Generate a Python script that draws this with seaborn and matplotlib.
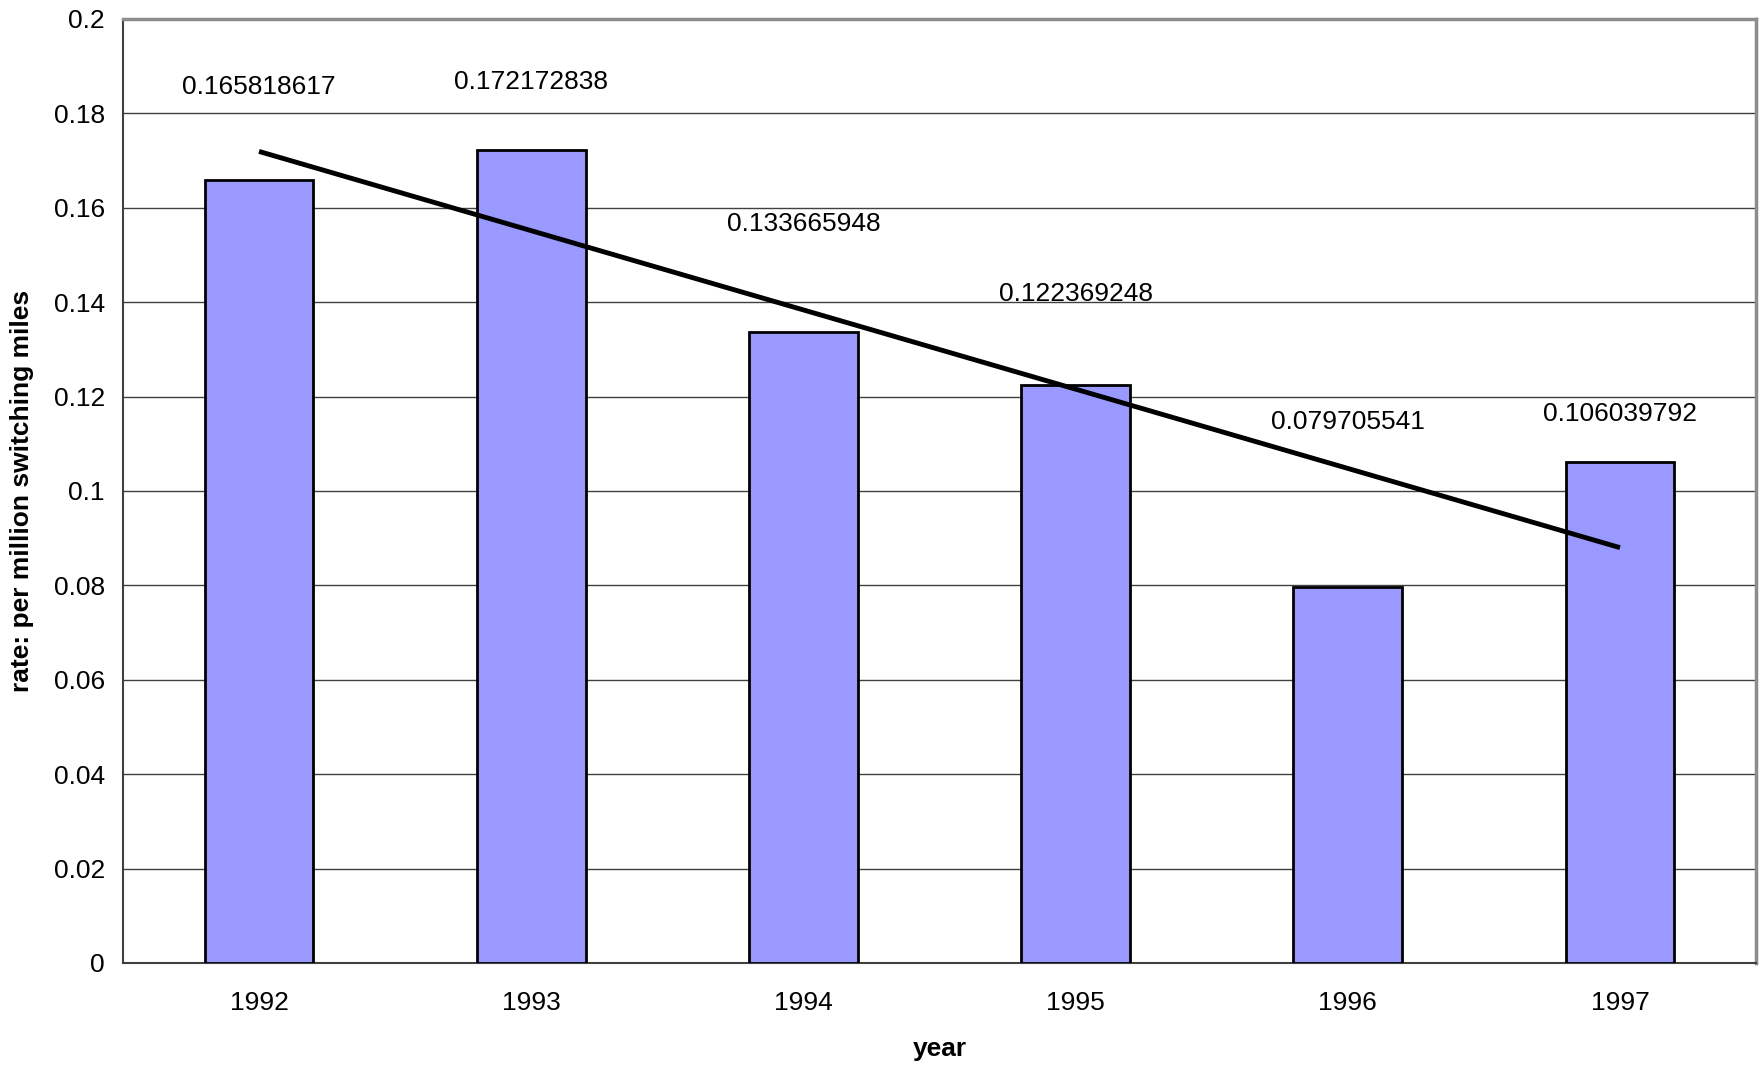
import numpy as np
import pandas as pd
import matplotlib
matplotlib.use("Agg")
import matplotlib.pyplot as plt
import seaborn as sns

years = ["1992", "1993", "1994", "1995", "1996", "1997"]
rates = [0.165818617, 0.172172838, 0.133665948, 0.122369248, 0.079705541, 0.106039792]
label_texts = ["0.165818617", "0.172172838", "0.133665948", "0.122369248", "0.079705541", "0.106039792"]
label_y = [0.1855, 0.1866, 0.1566, 0.1418, 0.1147, 0.1163]
y_ticks = [0, 0.02, 0.04, 0.06, 0.08, 0.1, 0.12, 0.14, 0.16, 0.18, 0.2]
y_tick_labels = ["0", "0.02", "0.04", "0.06", "0.08", "0.1", "0.12", "0.14", "0.16", "0.18", "0.2"]

sns.set_theme(style="white")
plt.rcParams["font.family"] = ["Liberation Sans", "DejaVu Sans"]
plt.rcParams["text.color"] = "black"
plt.rcParams["axes.labelcolor"] = "black"
plt.rcParams["xtick.color"] = "black"
plt.rcParams["ytick.color"] = "black"

df = pd.DataFrame({"year": years, "rate": rates})

fig = plt.figure(figsize=(17.64, 10.65), dpi=100)
ax = fig.add_axes([0.0697, 0.0958, 0.9258, 0.8864])

sns.barplot(data=df, x="year", y="rate", color="#9999FF", saturation=1,
            width=0.4, edgecolor="black", linewidth=2, ax=ax, zorder=3)

# linear trendline
xs = np.arange(len(rates))
coef = np.polyfit(xs, rates, 1)
ax.plot(xs, np.polyval(coef, xs), color="black", linewidth=3.5, zorder=4,
        solid_capstyle="butt")

for i, (t, yv) in enumerate(zip(label_texts, label_y)):
    ax.text(i, yv, t, ha="center", va="center", fontsize=19, color="black", zorder=5)

ax.set_xlim(-0.5, len(years) - 0.5)
ax.set_ylim(0, 0.2)
ax.set_yticks(y_ticks)
ax.set_yticklabels(y_tick_labels)
ax.yaxis.grid(True, color="#404040", linewidth=1)
ax.set_axisbelow(True)

# x ticks at category boundaries
ax.set_xticks(np.arange(len(years)))
ax.set_xticklabels(years)
ax.set_xticks(np.arange(-0.5, len(years)), minor=True)
ax.tick_params(axis="x", which="major", length=0, labelsize=19, pad=20, labelcolor="black")
ax.tick_params(axis="x", which="minor", length=7, width=1, color="#404040", direction="out")
ax.tick_params(axis="y", which="major", length=7, width=1, color="#404040", direction="out",
               labelsize=19, pad=6, labelcolor="black")

for s in ["left", "bottom"]:
    ax.spines[s].set_color("#404040")
    ax.spines[s].set_linewidth(1.5)
for s in ["top", "right"]:
    ax.spines[s].set_color("#8c8c8c")
    ax.spines[s].set_linewidth(2.5)

ax.set_xlabel("year", fontsize=19, fontweight="bold", labelpad=16, color="black")
ax.set_ylabel("rate: per million switching miles", fontsize=19, fontweight="bold",
              labelpad=14, color="black")

fig.savefig("out.png", dpi=100)
